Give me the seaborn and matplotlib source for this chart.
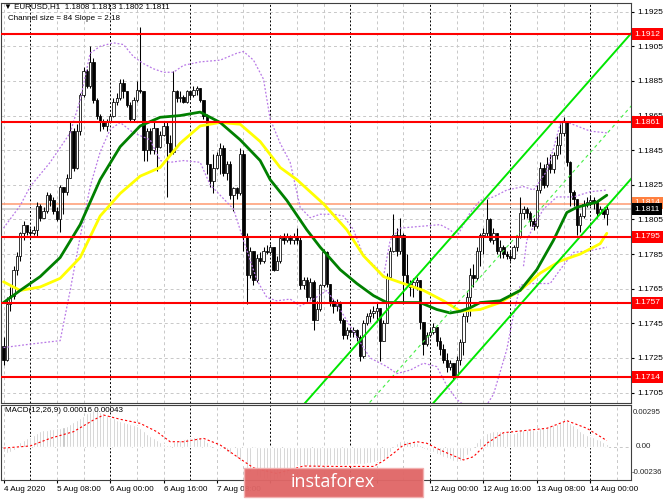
import numpy as np
import pandas as pd
import matplotlib
matplotlib.use("Agg")
import matplotlib.pyplot as plt
import seaborn as sns
from matplotlib.patches import Rectangle

# EURUSD H1 bars, 4 Aug 2020 16:00 .. 14 Aug 2020 05:00
first_open = 1.1732
closes = [
    1.1724, 1.1756, 1.1761, 1.1776, 1.1784, 1.1797, 1.1802, 1.1798, 1.1797, 1.1799,
    1.1813, 1.1806, 1.1810, 1.1819, 1.1816, 1.1810, 1.1805, 1.1824, 1.1821, 1.1829,
    1.1856, 1.1835, 1.1856, 1.1877, 1.1891, 1.1882, 1.1896, 1.1874, 1.1865, 1.1861,
    1.1859, 1.1862, 1.1865, 1.1873, 1.1875, 1.1884, 1.1879, 1.1871, 1.1863, 1.1874,
    1.1880, 1.1879, 1.1845, 1.1856, 1.1845, 1.1858, 1.1847, 1.1854, 1.1859, 1.1849,
    1.1844, 1.1879, 1.1875, 1.1876, 1.1873, 1.1879, 1.1877, 1.1880, 1.1881, 1.1874,
    1.1865, 1.1837, 1.1827, 1.1835, 1.1842, 1.1846, 1.1832, 1.1837, 1.1819, 1.1823,
    1.1820, 1.1843, 1.1795, 1.1773, 1.1787, 1.1770, 1.1783, 1.1781, 1.1787, 1.1786,
    1.1789, 1.1776, 1.1781, 1.1794, 1.1793, 1.1795, 1.1793, 1.1795, 1.1793, 1.1767,
    1.1770, 1.1760, 1.1769, 1.1747, 1.1753, 1.1767, 1.1786, 1.1768, 1.1758, 1.1755,
    1.1757, 1.1747, 1.1738, 1.1741, 1.1740, 1.1741, 1.1737, 1.1726, 1.1745, 1.1749,
    1.1751, 1.1752, 1.1754, 1.1735, 1.1745, 1.1772, 1.1787, 1.1796, 1.1787, 1.1796,
    1.1773, 1.1768, 1.1766, 1.1769, 1.1770, 1.1746, 1.1733, 1.1738, 1.1740, 1.1743,
    1.1735, 1.1730, 1.1724, 1.1720, 1.1722, 1.1714, 1.1724, 1.1734, 1.1749, 1.1760,
    1.1773, 1.1771, 1.1787, 1.1796, 1.1797, 1.1805, 1.1793, 1.1797, 1.1787, 1.1789,
    1.1785, 1.1784, 1.1783, 1.1789, 1.1795, 1.1809, 1.1811, 1.1809, 1.1804, 1.1801,
    1.1822, 1.1835, 1.1825, 1.1837, 1.1834, 1.1842, 1.1848, 1.1855, 1.1862, 1.1838,
    1.1821, 1.1817, 1.1802, 1.1807, 1.1814, 1.1815, 1.1816, 1.1815, 1.1809, 1.1811,
    1.1808, 1.1811,
]
highs = [
    1.1737, 1.1760, 1.1766, 1.1778, 1.1786, 1.1798, 1.1804, 1.1801, 1.1800, 1.1801,
    1.1815, 1.1814, 1.1812, 1.1821, 1.1820, 1.1818, 1.1812, 1.1825, 1.1824, 1.1831,
    1.1862, 1.1858, 1.1860, 1.1878, 1.1893, 1.1892, 1.1905, 1.1898, 1.1875, 1.1866,
    1.1863, 1.1863, 1.1866, 1.1875, 1.1878, 1.1886, 1.1886, 1.1879, 1.1873, 1.1876,
    1.1885, 1.1916, 1.1879, 1.1858, 1.1858, 1.1861, 1.1858, 1.1856, 1.1862, 1.1861,
    1.1854, 1.1891, 1.1880, 1.1879, 1.1877, 1.1880, 1.1879, 1.1882, 1.1882, 1.1881,
    1.1874, 1.1866, 1.1837, 1.1843, 1.1844, 1.1849, 1.1848, 1.1839, 1.1839, 1.1824,
    1.1824, 1.1846, 1.1845, 1.1797, 1.1789, 1.1787, 1.1785, 1.1786, 1.1789, 1.1790,
    1.1791, 1.1789, 1.1784, 1.1796, 1.1797, 1.1797, 1.1796, 1.1797, 1.1800, 1.1795,
    1.1772, 1.1772, 1.1771, 1.1770, 1.1758, 1.1768, 1.1788, 1.1787, 1.1768, 1.1759,
    1.1759, 1.1758, 1.1748, 1.1743, 1.1742, 1.1743, 1.1742, 1.1738, 1.1747, 1.1751,
    1.1753, 1.1755, 1.1757, 1.1754, 1.1747, 1.1774, 1.1789, 1.1808, 1.1800, 1.1806,
    1.1797, 1.1785, 1.1770, 1.1771, 1.1772, 1.1770, 1.1746, 1.1740, 1.1743, 1.1745,
    1.1743, 1.1737, 1.1733, 1.1728, 1.1724, 1.1722, 1.1726, 1.1736, 1.1751, 1.1763,
    1.1777, 1.1779, 1.1789, 1.1797, 1.1800, 1.1817, 1.1806, 1.1800, 1.1797, 1.1793,
    1.1790, 1.1787, 1.1787, 1.1790, 1.1796, 1.1818, 1.1813, 1.1812, 1.1810, 1.1806,
    1.1825, 1.1838, 1.1837, 1.1841, 1.1843, 1.1844, 1.1853, 1.1862, 1.1864, 1.1862,
    1.1839, 1.1822, 1.1817, 1.1809, 1.1816, 1.1818, 1.1819, 1.1818, 1.1816, 1.1813,
    1.1812, 1.1813,
]
lows = [
    1.1721, 1.1723, 1.1752, 1.1759, 1.1773, 1.1781, 1.1793, 1.1796, 1.1794, 1.1796,
    1.1795, 1.1804, 1.1806, 1.1809, 1.1813, 1.1808, 1.1804, 1.1798, 1.1808, 1.1819,
    1.1829, 1.1833, 1.1834, 1.1854, 1.1876, 1.1881, 1.1881, 1.1872, 1.1863, 1.1856,
    1.1857, 1.1856, 1.1861, 1.1864, 1.1871, 1.1874, 1.1875, 1.1870, 1.1862, 1.1862,
    1.1873, 1.1878, 1.1839, 1.1839, 1.1843, 1.1843, 1.1833, 1.1846, 1.1853, 1.1818,
    1.1842, 1.1843, 1.1873, 1.1873, 1.1872, 1.1872, 1.1875, 1.1876, 1.1877, 1.1873,
    1.1863, 1.1831, 1.1824, 1.1820, 1.1834, 1.1831, 1.1830, 1.1828, 1.1817, 1.1810,
    1.1817, 1.1819, 1.1787, 1.1756, 1.1771, 1.1767, 1.1769, 1.1779, 1.1780, 1.1785,
    1.1785, 1.1775, 1.1776, 1.1780, 1.1791, 1.1792, 1.1791, 1.1791, 1.1791, 1.1765,
    1.1765, 1.1757, 1.1759, 1.1741, 1.1750, 1.1752, 1.1766, 1.1766, 1.1755, 1.1751,
    1.1752, 1.1745, 1.1736, 1.1736, 1.1737, 1.1737, 1.1735, 1.1723, 1.1725, 1.1744,
    1.1746, 1.1748, 1.1746, 1.1723, 1.1735, 1.1745, 1.1771, 1.1786, 1.1784, 1.1785,
    1.1756, 1.1766, 1.1761, 1.1760, 1.1764, 1.1742, 1.1727, 1.1732, 1.1737, 1.1739,
    1.1732, 1.1727, 1.1722, 1.1717, 1.1718, 1.1712, 1.1714, 1.1721, 1.1727, 1.1746,
    1.1749, 1.1766, 1.1770, 1.1778, 1.1785, 1.1795, 1.1792, 1.1791, 1.1785, 1.1783,
    1.1783, 1.1782, 1.1781, 1.1782, 1.1787, 1.1794, 1.1805, 1.1806, 1.1801, 1.1799,
    1.1800, 1.1820, 1.1823, 1.1824, 1.1832, 1.1832, 1.1840, 1.1843, 1.1853, 1.1836,
    1.1813, 1.1813, 1.1796, 1.1798, 1.1806, 1.1812, 1.1813, 1.1811, 1.1806, 1.1808,
    1.1806, 1.1802,
]

# moving averages (green, yellow) traced at a few bars
green_idx = [0, 5, 11, 17, 23, 29, 35, 41, 47, 53, 59, 65, 71, 77, 80, 85, 91, 95, 101,
             106, 111, 115, 121, 125, 130, 134, 137, 140, 143, 149, 155, 160, 165, 169,
             172, 178, 181]
green_val = [1.1757, 1.1764, 1.1772, 1.1783, 1.1802, 1.1828, 1.1847, 1.1859, 1.1864,
             1.1865, 1.1867, 1.1861, 1.1851, 1.1839, 1.1828, 1.1816, 1.1799, 1.1789,
             1.1776, 1.1768, 1.1761, 1.1757, 1.1757, 1.1757, 1.1753, 1.1751, 1.1752,
             1.1754, 1.1757, 1.1758, 1.1764, 1.1776, 1.1793, 1.1809, 1.1812, 1.1815,
             1.1819]
yellow_idx = [0, 5, 11, 17, 23, 29, 35, 41, 47, 53, 59, 65, 71, 77, 83, 88, 96, 103, 108,
              114, 120, 126, 132, 137, 143, 149, 155, 161, 167, 173, 179, 181]
yellow_val = [1.1769, 1.1764, 1.1766, 1.1771, 1.1783, 1.1807, 1.1820, 1.1830, 1.1835,
              1.1849, 1.1859, 1.1861, 1.1860, 1.1850, 1.1835, 1.1828, 1.1814, 1.1799,
              1.1784, 1.1772, 1.1768, 1.1764, 1.1758, 1.1752, 1.1753, 1.1757, 1.1764,
              1.1774, 1.1781, 1.1785, 1.1791, 1.1797]

# purple dotted bands
upper_idx = [0, 5, 8, 14, 20, 23, 26, 29, 33, 36, 39, 42, 45, 48, 51, 54, 59, 65, 70, 72,
             75, 78, 80, 83, 86, 89, 92, 95, 99, 102, 105, 108, 112, 114, 116, 119, 125,
             131, 134, 136, 140, 143, 147, 151, 156, 159, 163, 165, 167, 168, 172, 176, 181]
upper_val = [1.1800, 1.1813, 1.1824, 1.1838, 1.1855, 1.1874, 1.1901, 1.1905, 1.1907, 1.1906,
             1.1899, 1.1895, 1.1892, 1.1890, 1.1890, 1.1894, 1.1896, 1.1897, 1.1901, 1.1902,
             1.1897, 1.1886, 1.1863, 1.1849, 1.1838, 1.1812, 1.1806, 1.1808, 1.1808, 1.1807,
             1.1799, 1.1784, 1.1777, 1.1772, 1.1793, 1.1800, 1.1801, 1.1802, 1.1799, 1.1795,
             1.1809, 1.1816, 1.1818, 1.1822, 1.1824, 1.1822, 1.1833, 1.1846, 1.1860, 1.1862,
             1.1859, 1.1856, 1.1855]
lower_idx = [0, 8, 17, 20, 23, 26, 29, 32, 35, 39, 44, 47, 50, 54, 59, 62, 65, 69, 72, 76,
             79, 82, 86, 89, 93, 97, 101, 106, 110, 115, 118, 122, 126, 130, 133, 136, 140,
             144, 147, 151, 153, 155, 158, 164, 167, 171, 176, 181]
lower_val = [1.1731, 1.1733, 1.1735, 1.1764, 1.1795, 1.1824, 1.1844, 1.1857, 1.1861, 1.1855,
             1.1851, 1.1839, 1.1838, 1.1839, 1.1838, 1.1825, 1.1819, 1.1811, 1.1793, 1.1770,
             1.1760, 1.1758, 1.1759, 1.1755, 1.1759, 1.1764, 1.1753, 1.1737, 1.1725, 1.1720,
             1.1716, 1.1718, 1.1722, 1.1720, 1.1709, 1.1701, 1.1695, 1.1695, 1.1704, 1.1730,
             1.1750, 1.1767, 1.1768, 1.1768, 1.1776, 1.1786, 1.1787, 1.1789]
extra_idx = [156, 157, 159, 162, 166, 171, 176, 181]
extra_val = [1.1778, 1.1793, 1.1801, 1.1811, 1.1818, 1.1818, 1.1821, 1.1822]

# regression channel: mid line end points, half width (size 84, slope 2.18)
channel_idx = [90, 189]
channel_mid = [1.1656, 1.1872]
channel_half = 0.0042

levels = [1.1912, 1.1861, 1.1795, 1.1757, 1.1714]
ask_line = 1.1814
bid_line = 1.1811
price_ticks = [1.1925, 1.1905, 1.1885, 1.1865, 1.1845, 1.1825, 1.1805, 1.1785,
               1.1765, 1.1745, 1.1725, 1.1705]

# MACD(12,26,9) histogram per bar and signal line
macd_hist = [
    -0.00040, -0.00045, -0.00040, -0.00025, -0.00010, 0.00030, 0.00045, 0.00060, 0.00070, 0.00085,
    0.00100, 0.00110, 0.00115, 0.00120, 0.00125, 0.00128, 0.00130, 0.00135, 0.00140, 0.00145,
    0.00160, 0.00175, 0.00190, 0.00205, 0.00220, 0.00235, 0.00248, 0.00258, 0.00252, 0.00242,
    0.00230, 0.00218, 0.00210, 0.00200, 0.00190, 0.00180, 0.00172, 0.00165, 0.00160, 0.00150,
    0.00145, 0.00130, 0.00110, 0.00090, 0.00075, 0.00060, 0.00045, 0.00030, 0.00020, 0.00015,
    0.00010, 0.00030, 0.00040, 0.00045, 0.00055, 0.00060, 0.00065, 0.00070, 0.00070, 0.00065,
    0.00055, 0.00030, 0.00010, -0.00005, -0.00010, -0.00015, -0.00025, -0.00035, -0.00050, -0.00060,
    -0.00080, -0.00100, -0.00130, -0.00160, -0.00180, -0.00195, -0.00210, -0.00220, -0.00228, -0.00232,
    -0.00235, -0.00234, -0.00230, -0.00222, -0.00210, -0.00195, -0.00175, -0.00150, -0.00135, -0.00135,
    -0.00138, -0.00140, -0.00142, -0.00145, -0.00145, -0.00140, -0.00130, -0.00130, -0.00132, -0.00132,
    -0.00130, -0.00130, -0.00130, -0.00128, -0.00126, -0.00124, -0.00122, -0.00125, -0.00120, -0.00118,
    -0.00115, -0.00110, -0.00105, -0.00100, -0.00090, -0.00070, -0.00040, 0.00000, 0.00025, 0.00040,
    0.00045, 0.00040, 0.00035, 0.00030, 0.00025, 0.00010, -0.00015, -0.00025, -0.00035, -0.00040,
    -0.00050, -0.00060, -0.00070, -0.00080, -0.00090, -0.00100, -0.00110, -0.00105, -0.00090, -0.00060,
    -0.00030, 0.00000, 0.00030, 0.00060, 0.00085, 0.00100, 0.00105, 0.00110, 0.00110, 0.00108,
    0.00105, 0.00105, 0.00100, 0.00100, 0.00105, 0.00115, 0.00120, 0.00120, 0.00118, 0.00115,
    0.00120, 0.00130, 0.00130, 0.00140, 0.00145, 0.00150, 0.00160, 0.00170, 0.00180, 0.00185,
    0.00170, 0.00150, 0.00130, 0.00110, 0.00095, 0.00085, 0.00075, 0.00065, 0.00055, 0.00045,
    0.00030, 0.00016,
]
signal_idx = [0, 8, 14, 21, 27, 30, 35, 41, 46, 50, 54, 60, 65, 70, 75, 82, 90, 100, 111,
              114, 117, 120, 124, 127, 129, 131, 138, 141, 145, 150, 158, 163, 169, 175, 181]
signal_val = [-0.00010, 0.00005, 0.00059, 0.00106, 0.00189, 0.00224, 0.00194, 0.00165,
              0.00106, 0.00035, 0.00035, 0.00059, 0.00012, -0.00070, -0.00150, -0.00190,
              -0.00137, -0.00140, -0.00140, -0.00100, -0.00047, 0.00012, 0.00035, 0.00024,
              0.00000, -0.00024, -0.00094, -0.00071, 0.00024, 0.00099, 0.00118, 0.00130,
              0.00184, 0.00130, 0.00043]

# the 10 Aug / 11 Aug labels sit under the watermark and are not visible
date_ticks = [0, 16, 32, 48, 64, 80, 96, 112, 128, 144, 160, 176]
date_labels = ["4 Aug 2020", "5 Aug 08:00", "6 Aug 00:00", "6 Aug 16:00", "7 Aug 08:00",
               "", "", "", "12 Aug 00:00", "12 Aug 16:00", "13 Aug 08:00", "14 Aug 00:00"]

sns.set_style("white")
plt.rcParams["font.family"] = ["Liberation Sans", "DejaVu Sans"]

n = len(closes)
idx = np.arange(n)
df = pd.DataFrame({"o": [first_open] + closes[:-1], "h": highs, "l": lows, "c": closes})

W, H = 665, 499
fig = plt.figure(figsize=(W / 100, H / 100), dpi=100)
ax = fig.add_axes([1 / W, 1 - 403 / H, 630 / W, 400 / H])
axm = fig.add_axes([1 / W, 1 - 480 / H, 630 / W, 75 / H], sharex=ax)
xmin, xmax = -0.75, 188.25

for a in (ax, axm):
    a.set_facecolor("white")
    for s in a.spines.values():
        s.set_color("#404040")
        s.set_linewidth(0.8)
    # vertical grid every 8 bars, day separators dotted black
    for i in range(0, int(xmax) + 1, 8):
        if (16 + i) % 24 == 0:
            a.axvline(i, color="black", lw=0.7, ls=(0, (2, 2)), zorder=0.5)
        else:
            a.axvline(i, color="#C8C8C8", lw=0.7, ls=(0, (3, 3)), zorder=0.5)

for p in price_ticks:
    ax.axhline(p, color="#C8C8C8", lw=0.7, ls=(0, (3, 3)), zorder=0.5)

ax.axhline(ask_line, color="#FF9A70", lw=1.1, zorder=1)
ax.axhline(bid_line, color="#C8C8C8", lw=1.1, zorder=1)

# candles
up = df.c >= df.o
ax.vlines(idx, df.l, df.h, color="black", lw=0.75, zorder=3)
body_lo = np.minimum(df.o, df.c)
body_h = np.maximum((df.c - df.o).abs(), 0.00004)
ax.bar(idx, body_h, bottom=body_lo, width=0.7, color=np.where(up, "white", "black"),
       edgecolor="black", linewidth=0.55, zorder=4)

# bands
band_kw = dict(color="#B878E6", lw=0.9, ls=(0, (1.5, 1.5)), zorder=4.5)
ax.plot(upper_idx, upper_val, **band_kw)
ax.plot(lower_idx, lower_val, **band_kw)
ax.plot(extra_idx, extra_val, **band_kw)

# moving averages
sns.lineplot(x=yellow_idx, y=yellow_val, ax=ax, color="#FFFF00", linewidth=2.0, zorder=5)
sns.lineplot(x=green_idx, y=green_val, ax=ax, color="#008000", linewidth=2.0, zorder=5.5)

# regression channel
mid = np.array(channel_mid)
ax.plot(channel_idx, mid + channel_half, color="#00E600", lw=1.4, zorder=6)
ax.plot(channel_idx, mid - channel_half, color="#00E600", lw=1.4, zorder=6)
ax.plot(channel_idx, mid, color="#44EE44", lw=0.8, ls=(0, (3, 3)), zorder=6)

for lv in levels:
    ax.axhline(lv, color="#FF0000", lw=1.5, zorder=7)

ax.set_xlim(xmin, xmax)
ax.set_ylim(1.1699, 1.1930)
ax.yaxis.tick_right()
ax.set_yticks(price_ticks)
ax.set_yticklabels([f"{p:.4f}" for p in price_ticks])
ax.tick_params(axis="y", labelsize=6, length=2.5, pad=2, colors="black")
ax.tick_params(axis="x", bottom=False, labelbottom=False)
ax.set_xlabel("")
ax.set_ylabel("")

ytr = ax.get_yaxis_transform()
for lv in levels:
    ax.text(1.005, lv, f"{lv:.4f}", transform=ytr, ha="left", va="center", fontsize=6,
            color="white", zorder=10, clip_on=False,
            bbox=dict(boxstyle="square,pad=0.3", fc="#FF0000", ec="none"))
ax.text(1.005, ask_line + 0.00005, f"{ask_line:.4f}", transform=ytr, ha="left", va="center",
        fontsize=6, color="white", zorder=10, clip_on=False,
        bbox=dict(boxstyle="square,pad=0.3", fc="#FF8040", ec="none"))
ax.text(1.005, bid_line - 0.00002, f"{bid_line:.4f}", transform=ytr, ha="left", va="center",
        fontsize=6, color="white", zorder=11, clip_on=False,
        bbox=dict(boxstyle="square,pad=0.3", fc="black", ec="none"))

ax.text(3 / 630, 1 - 4 / 400, "\u25bc EURUSD,H1  1.1808 1.1813 1.1802 1.1811",
        transform=ax.transAxes, ha="left", va="center", fontsize=5.8, color="black")
ax.text(7 / 630, 1 - 16 / 400, "Channel size = 84 Slope = 2.18",
        transform=ax.transAxes, ha="left", va="center", fontsize=5.8, color="black")

# MACD panel
axm.bar(idx, macd_hist, width=0.6, color="#C0C0C0", zorder=2)
axm.axhline(0, color="#C8C8C8", lw=0.7, ls=(0, (3, 3)), zorder=1)
axm.plot(signal_idx, signal_val, color="#FF0000", lw=0.8, ls=(0, (2, 2)), zorder=3)
axm.set_ylim(-0.00236, 0.00295)
axm.set_xlim(xmin, xmax)
axm.set_yticks([])
axm.set_ylabel("")
mtr = axm.get_yaxis_transform()
axm.annotate("0.00295", xy=(1, 0.00295), xycoords=mtr, xytext=(1.5, -3), textcoords="offset points",
             ha="left", va="top", fontsize=5.6, annotation_clip=False)
axm.annotate("0.00", xy=(1, 0.0), xycoords=mtr, xytext=(3.5, 0), textcoords="offset points",
             ha="left", va="center", fontsize=5.8, annotation_clip=False)
axm.annotate("-0.00236", xy=(1, -0.00236), xycoords=mtr, xytext=(0.5, 3), textcoords="offset points",
             ha="left", va="bottom", fontsize=5.6, annotation_clip=False)
axm.text(4 / 630, 1 - 5 / 75, "MACD(12,26,9) 0.00016 0.00043", transform=axm.transAxes,
         ha="left", va="center", fontsize=5.8, color="black")

axm.set_xticks(date_ticks)
axm.set_xticklabels(date_labels)
axm.tick_params(axis="x", labelsize=5.9, length=2.5, pad=2, bottom=True, colors="black")
for lab in axm.get_xticklabels():
    lab.set_ha("left")

# instaforex watermark
fig.add_artist(Rectangle((244 / W, 1 - 497 / H), 179 / W, 29 / H, transform=fig.transFigure,
                         fc="#E06767", ec="#F3B0B0", lw=1.0, alpha=0.96, zorder=20))
fig.text(333 / W, 1 - 482 / H, "instaforex", ha="center", va="center", fontsize=13,
         color="white", family=["Open Sans", "DejaVu Sans"], zorder=21)

fig.savefig("out.png", dpi=100)
